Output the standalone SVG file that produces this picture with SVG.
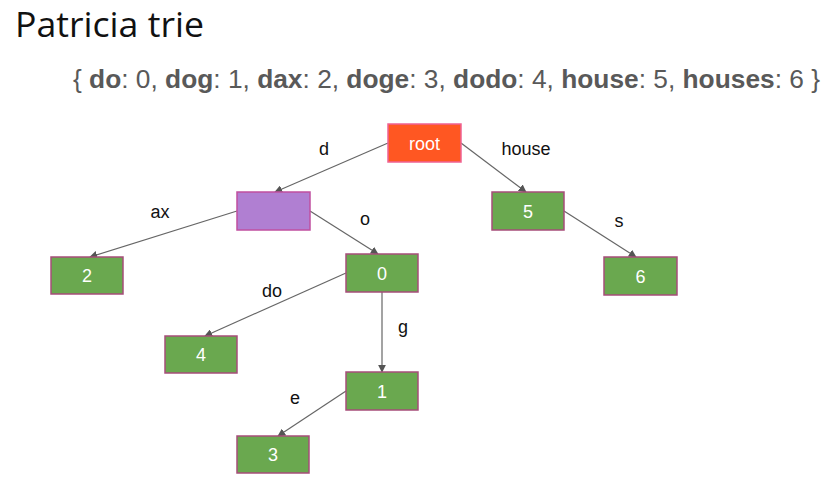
<svg xmlns="http://www.w3.org/2000/svg" width="831" height="482" viewBox="0 0 831 482">
<defs>
<style>
.title{font-family:"Open Sans","Noto Sans",sans-serif;font-size:34px;fill:#111}
.sub{font-family:"Liberation Sans",Arial,sans-serif;font-size:25px;fill:#595959}
.sub .k{font-weight:bold}
.box{stroke-width:1.5}
.green{fill:#6aa84f;stroke:#a64d79}
.lbl{font-family:"Liberation Sans",Arial,sans-serif;font-size:18px;fill:#fff;text-anchor:middle}
.elbl{font-family:"Liberation Sans",Arial,sans-serif;font-size:18px;fill:#111;text-anchor:middle}
.edge{stroke:#666;stroke-width:1.2;fill:none;marker-end:url(#arr)}
</style>
<marker id="arr" viewBox="0 0 10 10" refX="9" refY="5" markerWidth="8" markerHeight="8" markerUnits="userSpaceOnUse" orient="auto">
<path d="M0,0 L10,5 L0,10 z" fill="#555"/>
</marker>
</defs>
<rect width="831" height="482" fill="#fff"/>
<text class="title" x="15" y="37" textLength="189" lengthAdjust="spacingAndGlyphs">Patricia trie</text>
<text class="sub" x="73" y="88" textLength="747" lengthAdjust="spacingAndGlyphs">{ <tspan class="k">do</tspan>: 0, <tspan class="k">dog</tspan>: 1, <tspan class="k">dax</tspan>: 2, <tspan class="k">doge</tspan>: 3, <tspan class="k">dodo</tspan>: 4, <tspan class="k">house</tspan>: 5, <tspan class="k">houses</tspan>: 6 }</text>
<g id="edges">
<line class="edge" x1="388" y1="143" x2="275" y2="192"/>
<line class="edge" x1="461" y1="143" x2="526" y2="192"/>
<line class="edge" x1="237" y1="211" x2="90" y2="257"/>
<line class="edge" x1="310" y1="211" x2="378" y2="254"/>
<line class="edge" x1="346" y1="273" x2="205" y2="336"/>
<line class="edge" x1="382" y1="292" x2="382" y2="372"/>
<line class="edge" x1="346" y1="391" x2="278" y2="436"/>
<line class="edge" x1="564" y1="211" x2="636" y2="257"/>
<text class="elbl" x="324" y="155">d</text>
<text class="elbl" x="526" y="155">house</text>
<text class="elbl" x="160" y="218">ax</text>
<text class="elbl" x="365" y="225">o</text>
<text class="elbl" x="272" y="297">do</text>
<text class="elbl" x="403" y="333">g</text>
<text class="elbl" x="295" y="404">e</text>
<text class="elbl" x="619" y="227">s</text>
</g>
<g id="root"><rect class="box" x="388" y="124" width="73" height="38" fill="#ff5722" stroke="#f06292"/><text class="lbl" x="424.5" y="150">root</text></g>
<g id="n_d"><rect class="box" x="237" y="192" width="73" height="38" fill="#b07fd2" stroke="#c04fa0"/></g>
<g id="n5"><rect class="box green" x="492" y="192" width="72" height="38"/><text class="lbl" x="528" y="218">5</text></g>
<g id="n6"><rect class="box green" x="604" y="257" width="73" height="38"/><text class="lbl" x="640.5" y="283">6</text></g>
<g id="n2"><rect class="box green" x="51" y="257" width="72" height="37"/><text class="lbl" x="87" y="282">2</text></g>
<g id="n0"><rect class="box green" x="346" y="254" width="72" height="38"/><text class="lbl" x="382" y="280">0</text></g>
<g id="n4"><rect class="box green" x="165" y="336" width="72" height="37"/><text class="lbl" x="201" y="361">4</text></g>
<g id="n1"><rect class="box green" x="346" y="372" width="72" height="38"/><text class="lbl" x="382" y="398">1</text></g>
<g id="n3"><rect class="box green" x="237" y="436" width="72" height="37"/><text class="lbl" x="273" y="461">3</text></g>
</svg>
